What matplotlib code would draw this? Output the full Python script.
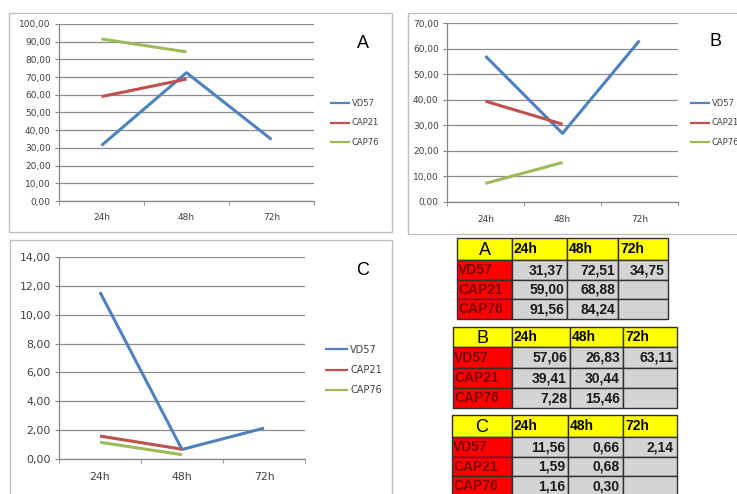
import matplotlib
matplotlib.use("Agg")
import matplotlib.pyplot as plt
import numpy as np
from matplotlib.patches import Rectangle

W, H = 737, 494

categories = ["24h", "48h", "72h"]
series_names = ["VD57", "CAP21", "CAP76"]

A_VD57 = [31.37, 72.51, 34.75]
A_CAP21 = [59.00, 68.88, None]
A_CAP76 = [91.56, 84.24, None]

B_VD57 = [57.06, 26.83, 63.11]
B_CAP21 = [39.41, 30.44, None]
B_CAP76 = [7.28, 15.46, None]

C_VD57 = [11.56, 0.66, 2.14]
C_CAP21 = [1.59, 0.68, None]
C_CAP76 = [1.16, 0.30, None]

panel_labels = ["A", "B", "C"]
colors = ["#4F81BD", "#C0504D", "#9BBB59"]

fig = plt.figure(figsize=(W / 100, H / 100), dpi=100)
fig.patch.set_facecolor("white")

overlay = fig.add_axes([0, 0, 1, 1], zorder=-1)
overlay.set_xlim(0, W)
overlay.set_ylim(H, 0)
overlay.axis("off")

top = fig.add_axes([0, 0, 1, 1], zorder=10)
top.set_xlim(0, W)
top.set_ylim(H, 0)
top.axis("off")
top.patch.set_alpha(0)

def fr(l, t, r, b):
    return [l / W, 1 - b / H, (r - l) / W, (b - t) / H]

def fmt(v):
    return f"{v:.2f}".replace(".", ",")

def chart(frame, plot, data, ymax, ystep, label, label_xy, leg_xy, fs, lfs, lsp):
    l, t, r, b = frame
    overlay.add_patch(Rectangle((l, t), r - l, b - t, fill=False, ec="#BFBFBF", lw=1.0))
    ax = fig.add_axes(fr(*plot))
    ax.set_facecolor("none")
    x = np.arange(len(categories))
    for vals, name, c in zip(data, series_names, colors):
        y = np.array([np.nan if v is None else v for v in vals], dtype=float)
        ax.plot(x, y, color=c, lw=2.2, label=name, solid_capstyle="butt")
    ax.set_xlim(-0.5, len(categories) - 0.5)
    ax.set_ylim(0, ymax)
    yt = np.arange(0, ymax + ystep / 2, ystep)
    ax.set_yticks(yt)
    ax.set_yticklabels([fmt(v) for v in yt], fontsize=fs, color="#404040")
    ax.set_xticks(x)
    ax.set_xticklabels(categories, fontsize=fs, color="#404040")
    ax.set_xticks(np.arange(-0.5, len(categories)), minor=True)
    ax.tick_params(axis="x", which="major", length=0, pad=9)
    ax.tick_params(axis="x", which="minor", length=3, color="#868686")
    ax.tick_params(axis="y", length=3, color="#868686", pad=3)
    ax.grid(axis="y", color="#8C8C8C", lw=0.9)
    ax.set_axisbelow(True)
    for s in ["top", "right"]:
        ax.spines[s].set_visible(False)
    for s in ["left", "bottom"]:
        ax.spines[s].set_color("#868686")
        ax.spines[s].set_linewidth(0.9)
    top.text(label_xy[0], label_xy[1], label, fontsize=13, ha="center", va="center",
             color="black", family="Liberation Sans")
    leg = ax.legend(loc="center left", bbox_to_anchor=(leg_xy[0] / W, 1 - leg_xy[1] / H),
                    bbox_transform=fig.transFigure, frameon=False, fontsize=lfs,
                    handlelength=2.4, handletextpad=0.2, labelspacing=lsp,
                    borderpad=0, borderaxespad=0)
    for tx in leg.get_texts():
        tx.set_color("#404040")
    for ln in leg.get_lines():
        ln.set_linewidth(1.6)
    return ax

chart((9, 13, 392, 232), (59, 24, 314, 201), [A_VD57, A_CAP21, A_CAP76], 100, 10,
      "A", (363, 43), (330, 123), 6.5, 6.0, 1.3)
chart((408, 13, 760, 234), (447, 23, 678, 202), [B_VD57, B_CAP21, B_CAP76], 70, 10,
      "B", (716, 42), (690, 123), 6.5, 6.0, 1.3)
chart((10, 240, 392, 520), (59, 257, 305, 459), [C_VD57, C_CAP21, C_CAP76], 14, 2,
      "C", (363, 270), (325, 370), 7.8, 7.0, 1.05)

def table(cols, rows, label, data):
    yellow, red, gray = "#FFFF00", "#FF0000", "#D4D4D4"
    for ri in range(len(rows) - 1):
        for ci in range(len(cols) - 1):
            x0, x1 = cols[ci], cols[ci + 1]
            y0, y1 = rows[ri], rows[ri + 1]
            if ri == 0:
                fc = yellow
            elif ci == 0:
                fc = red
            else:
                fc = gray
            overlay.add_patch(Rectangle((x0, y0), x1 - x0, y1 - y0, fc=fc, ec="#303030", lw=1.0))
            yc = (y0 + y1) / 2
            if ri == 0 and ci == 0:
                top.text((x0 + x1) / 2, yc + 1, label, fontsize=13, ha="center", va="center",
                         family="Liberation Sans", color="black")
            elif ri == 0:
                top.text(x0 + 2, yc, categories[ci - 1], fontsize=10, ha="left", va="center",
                         family="Liberation Sans", fontweight="bold", color="black")
            elif ci == 0:
                top.text(x0 + 1, yc, series_names[ri - 1], fontsize=10, ha="left", va="center",
                         family="Liberation Sans", fontweight="bold", color="#7A0000")
            else:
                v = data[ri - 1][ci - 1]
                if v is not None:
                    top.text(x1 - 3, yc, fmt(v), fontsize=10, ha="right", va="center",
                             family="Liberation Sans", fontweight="bold", color="#1A1A1A")

table([457, 512, 567, 618, 668], [238, 260, 280, 299, 319], "A", [A_VD57, A_CAP21, A_CAP76])
table([453, 512, 570, 623, 677], [327, 347, 368, 388, 408], "B", [B_VD57, B_CAP21, B_CAP76])
table([452, 512, 568, 623, 677], [415, 437, 457, 476, 496], "C", [C_VD57, C_CAP21, C_CAP76])

fig.savefig("out.png", dpi=100)
